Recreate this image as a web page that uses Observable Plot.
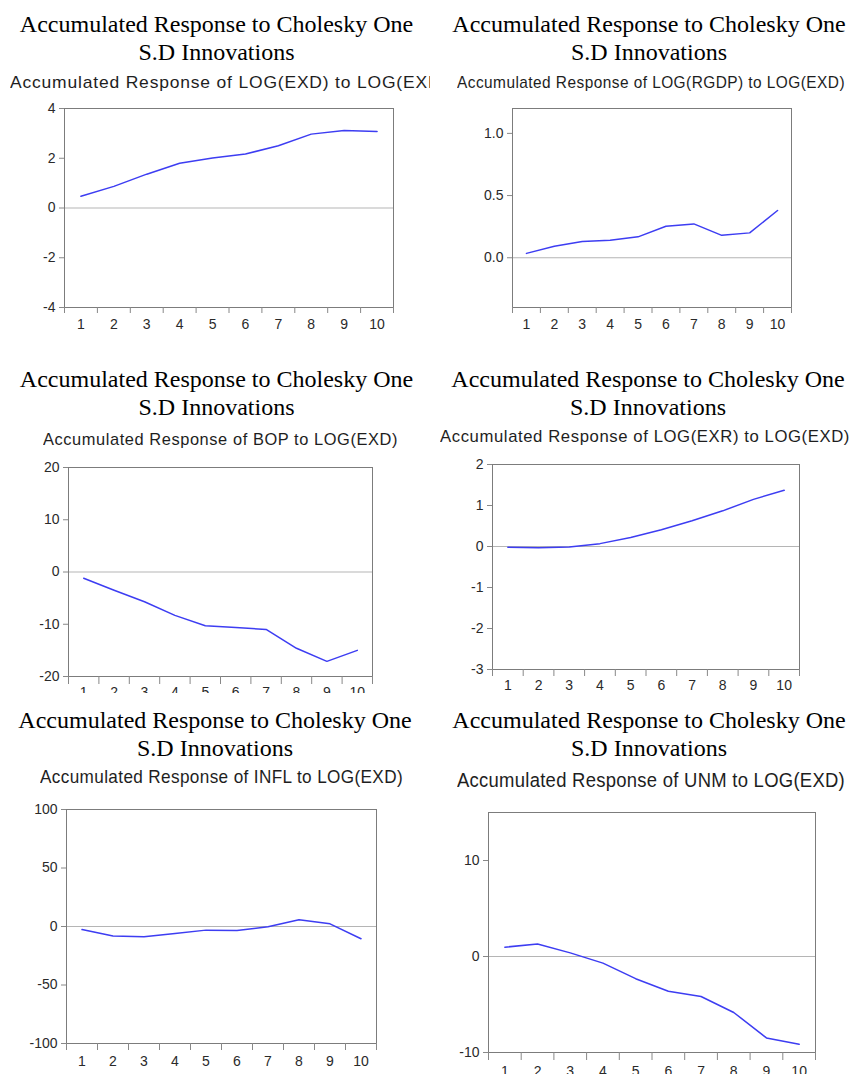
<!DOCTYPE html>
<html>
<head>
<meta charset="utf-8">
<script src="https://cdn.jsdelivr.net/npm/d3@7"></script>
<script src="https://cdn.jsdelivr.net/npm/@observablehq/plot@0.6"></script>
<style>
  html, body { margin: 0; padding: 0; background: #fff; }
  #root { position: relative; width: 853px; height: 1074px; overflow: hidden; background: #fff; }
  .title { position: absolute; text-align: center; font-family: "Liberation Serif", "Times New Roman", serif;
           font-size: 24px; line-height: 28px; color: #000; white-space: nowrap; }
  .subclip { position: absolute; overflow: hidden; }
  .sub { position: absolute; white-space: nowrap; font-family: "Liberation Sans", Arial, sans-serif;
         color: #1e1e1e; transform-origin: 0 50%; }
  .chartwrap { position: absolute; overflow: hidden; }
</style>
</head>
<body>
<div id="root"></div>
<script>
// ---------------- data ----------------
const periods = [1, 2, 3, 4, 5, 6, 7, 8, 9, 10];

const titleLine1 = "Accumulated Response to Cholesky One";
const titleLine2 = "S.D Innovations";

const subtitles = [
  "Accumulated Response of LOG(EXD) to LOG(EXD)",
  "Accumulated Response of LOG(RGDP) to LOG(EXD)",
  "Accumulated Response of BOP to LOG(EXD)",
  "Accumulated Response of LOG(EXR) to LOG(EXD)",
  "Accumulated Response of INFL to LOG(EXD)",
  "Accumulated Response of UNM to LOG(EXD)"
];

const respEXD  = [0.47, 0.87, 1.36, 1.80, 2.01, 2.17, 2.50, 2.97, 3.12, 3.08];
const respRGDP = [0.035, 0.093, 0.13, 0.14, 0.168, 0.253, 0.272, 0.18, 0.20, 0.38];
const respBOP  = [-1.2, -3.5, -5.7, -8.3, -10.3, -10.6, -11.0, -14.6, -17.1, -15.0];
const respEXR  = [-0.02, -0.03, -0.01, 0.07, 0.22, 0.41, 0.63, 0.87, 1.15, 1.37];
const respINFL = [-2.6, -8.2, -8.8, -6.0, -3.1, -3.4, -0.3, 5.7, 2.3, -10.5];
const respUNM  = [0.97, 1.31, 0.38, -0.69, -2.31, -3.62, -4.17, -5.83, -8.48, -9.14];

const yDomains = [[-4, 4], [-0.4, 1.2], [-20, 20], [-3, 2], [-100, 100], [-10, 15]];
const yTicks = [
  [-4, -2, 0, 2, 4],
  [0, 0.5, 1.0],
  [-20, -10, 0, 10, 20],
  [-3, -2, -1, 0, 1, 2],
  [-100, -50, 0, 50, 100],
  [-10, 0, 10]
];
const yDecimals = [0, 1, 0, 0, 0, 0];

const series = [respEXD, respRGDP, respBOP, respEXR, respINFL, respUNM];

// ---------------- layout (positions only) ----------------
const layout = [
  {frame: [64.3, 108.3, 393.3, 307.3], titleX: 216.5, titleTop: 9.6,  subX: 10,  subBase: 88.3,  subSize: 17,   subW: 438, ls: 0.8, subClip: [0, 430],   tickLen: 6, labelGap: 12, clipBottom: 340},
  {frame: [511.7, 108.3, 790.7, 307.3], titleX: 649,  titleTop: 9.6,  subX: 457, subBase: 88.3,  subSize: 17,   subW: 388, ls: 0.5, subClip: [430, 853], tickLen: 6, labelGap: 12, clipBottom: 340},
  {frame: [68.3, 466.7, 372.3, 676],   titleX: 216.5, titleTop: 364.6, subX: 43,  subBase: 445,   subSize: 17,   subW: 355, ls: 0.6, subClip: [0, 430],   tickLen: 8, labelGap: 11, clipBottom: 693},
  {frame: [491.7, 464.3, 799, 669.3],   titleX: 648,  titleTop: 364.6, subX: 440, subBase: 442.3, subSize: 17,   subW: 410, ls: 0.6, subClip: [430, 853], tickLen: 7, labelGap: 11, clipBottom: 700},
  {frame: [66, 809, 375.7, 1043.3],     titleX: 215,  titleTop: 706.2, subX: 40,  subBase: 784,   subSize: 18.5, subW: 363, ls: 0.4, subClip: [0, 430],   tickLen: 7, labelGap: 13, clipBottom: 1074},
  {frame: [487.7, 812.3, 814.3, 1052.7], titleX: 649, titleTop: 706.2, subX: 457, subBase: 787.3, subSize: 20.5, subW: 388, ls: 0.3, subClip: [430, 853], tickLen: 8, labelGap: 14, clipBottom: 1074}
];

// ---------------- render ----------------
const root = document.getElementById("root");

series.forEach((vals, i) => {
  const L = layout[i];

  // title (two lines)
  const t = document.createElement("div");
  t.className = "title";
  t.style.left = (L.titleX - 260) + "px";
  t.style.width = "520px";
  t.style.top = L.titleTop + "px";
  t.innerHTML = titleLine1 + "<br>" + titleLine2;
  root.appendChild(t);

  // subtitle
  const clip = document.createElement("div");
  clip.className = "subclip";
  clip.style.left = L.subClip[0] + "px";
  clip.style.width = (L.subClip[1] - L.subClip[0]) + "px";
  clip.style.top = (L.subBase - 40) + "px";
  clip.style.height = "52px";
  const s = document.createElement("span");
  s.className = "sub";
  s.textContent = subtitles[i];
  s.style.fontSize = L.subSize + "px";
  s.style.lineHeight = L.subSize + "px";
  s.style.letterSpacing = L.ls + "px";
  s.style.left = (L.subX - L.subClip[0]) + "px";
  s.style.top = (40 - 0.8465 * L.subSize) + "px";
  clip.appendChild(s);
  root.appendChild(clip);
  const w = s.getBoundingClientRect().width;
  s.style.transform = `scaleX(${L.subW / w})`;

  // chart
  const [fl, ft, fr, fb] = L.frame;
  const mL = 50, mR = 10, mT = 10, mB = 34;
  const W = Math.round(fr - fl), H = Math.round(fb - ft);
  const data = periods.map((p, j) => ({period: p, value: vals[j]}));
  const bounds = periods.map(p => p - 0.5).concat([periods[periods.length - 1] + 0.5]);
  const fmt = d => yDecimals[i] ? d.toFixed(yDecimals[i]) : String(d);

  const chart = Plot.plot({
    width: W + mL + mR,
    height: H + mT + mB,
    marginLeft: mL, marginRight: mR, marginTop: mT, marginBottom: mB,
    x: {domain: [bounds[0], bounds[bounds.length - 1]]},
    y: {domain: yDomains[i]},
    style: {fontFamily: "'Liberation Sans', Arial, sans-serif", fontSize: "14px", color: "#2a2a2a", background: "transparent", overflow: "hidden"},
    marks: [
      Plot.ruleY([0], {stroke: "#b5b5b5", strokeWidth: 1}),
      Plot.line(data, {x: "period", y: "value", stroke: "#3d3df2", strokeWidth: 1.5}),
      Plot.frame({stroke: "#7c7c7c"}),
      Plot.axisY({ticks: yTicks[i], tickFormat: fmt, tickSize: 5, tickPadding: 4, label: null, stroke: "#888", fontSize: 14}),
      Plot.axisX({ticks: bounds, tickSize: L.tickLen, tickFormat: () => "", label: null, stroke: "#888"}),
      Plot.axisX({ticks: periods, tickSize: 0, tickPadding: L.labelGap, label: null, fontSize: 14})
    ]
  });

  const wrap = document.createElement("div");
  wrap.className = "chartwrap";
  const top = ft - mT;
  wrap.style.left = (fl - mL) + "px";
  wrap.style.top = top + "px";
  wrap.style.width = (W + mL + mR) + "px";
  wrap.style.height = Math.min(H + mT + mB, L.clipBottom - top) + "px";
  wrap.appendChild(chart);
  root.appendChild(wrap);
});
</script>
</body>
</html>
